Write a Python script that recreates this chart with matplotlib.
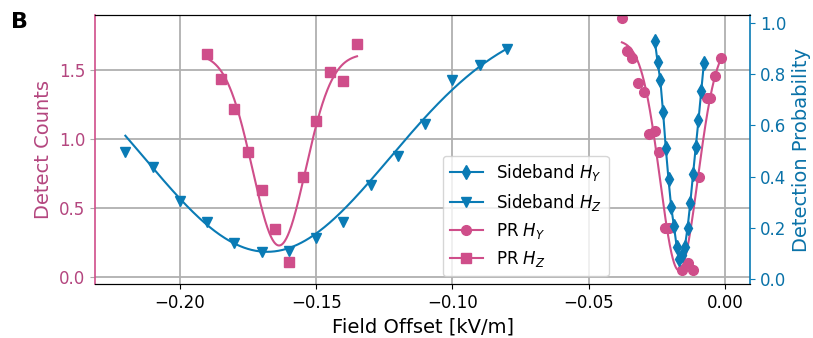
import numpy as np
import matplotlib
matplotlib.use("Agg")
import matplotlib.pyplot as plt
from matplotlib.lines import Line2D

# ---------------- data ----------------
# PR H_Z (squares, left axis: Detect Counts)
pr_hz_x = [-0.190, -0.185, -0.180, -0.175, -0.170, -0.165, -0.160, -0.155, -0.150, -0.145, -0.140, -0.135]
pr_hz_y = [1.62, 1.44, 1.22, 0.91, 0.63, 0.35, 0.11, 0.73, 1.13, 1.49, 1.42, 1.69]

# PR H_Y (circles, left axis)
pr_hy_x = [-0.0378, -0.0358, -0.0340, -0.0318, -0.0298, -0.0278, -0.0257, -0.0241, -0.0219,
           -0.0204, -0.0159, -0.0135, -0.0116, -0.0094, -0.0067, -0.0055, -0.0037, -0.0016]
pr_hy_y = [1.88, 1.64, 1.59, 1.41, 1.34, 1.04, 1.06, 0.91, 0.36,
           0.355, 0.05, 0.10, 0.05, 0.725, 1.30, 1.297, 1.46, 1.59]

# Sideband H_Z (down triangles, right axis: Detection Probability)
sb_hz_x = [-0.22, -0.21, -0.20, -0.19, -0.18, -0.17, -0.16, -0.15, -0.14, -0.13,
           -0.12, -0.11, -0.10, -0.09, -0.08]
sb_hz_y = [0.497, 0.438, 0.306, 0.223, 0.142, 0.106, 0.110, 0.161, 0.224, 0.367,
           0.482, 0.607, 0.775, 0.834, 0.899]

# Sideband H_Y (thin diamonds, right axis)
sb_hy_x = [-0.0257, -0.0247, -0.0237, -0.0227, -0.0217, -0.0207, -0.0197, -0.0187, -0.0177,
           -0.0167, -0.0157, -0.0147, -0.0137, -0.0127, -0.0117, -0.0107, -0.0097, -0.0087, -0.0077]
sb_hy_y = [0.927, 0.847, 0.775, 0.652, 0.512, 0.389, 0.280, 0.207, 0.127,
           0.080, 0.095, 0.127, 0.201, 0.298, 0.409, 0.516, 0.620, 0.733, 0.844]

# Gaussian-dip fit parameters (offset, depth, center, sigma)
fit_pr_hz = (1.62, 1.39, -0.1636, 0.0097)
fit_pr_hy = (1.72, 1.67, -0.0169, 0.0069)
fit_sb_hz = (1.036, 0.929, -0.168, 0.045)

legend_labels = ["Sideband $H_Y$", "Sideband $H_Z$", "PR $H_Y$", "PR $H_Z$"]


def dip(x, p):
    o, d, c, s = p
    return o - d * np.exp(-(x - c) ** 2 / (2 * s ** 2))


PINK = "#CF4E8A"
PINK_TXT = "#B4467F"
BLUE = "#0A7BB5"
BLUE_TXT = "#0A72A8"

fig = plt.figure(figsize=(8.13, 3.38), dpi=100)
ax = fig.add_axes([0.117, 0.159, 0.8055, 0.7965])
ax2 = ax.twinx()

lw = 1.5
# PR series on left axis
xf = np.linspace(min(pr_hz_x), max(pr_hz_x), 300)
ax.plot(xf, dip(xf, fit_pr_hz), color=PINK, lw=lw)
ax.plot(pr_hz_x, pr_hz_y, ls="none", marker="s", ms=6.5, color=PINK)

xf = np.linspace(min(pr_hy_x), max(pr_hy_x), 300)
ax.plot(xf, dip(xf, fit_pr_hy), color=PINK, lw=lw)
ax.plot(pr_hy_x, pr_hy_y, ls="none", marker="o", ms=7, color=PINK)

# Sideband series on right axis
xf = np.linspace(min(sb_hz_x), max(sb_hz_x), 300)
ax2.plot(xf, dip(xf, fit_sb_hz), color=BLUE, lw=lw)
ax2.plot(sb_hz_x, sb_hz_y, ls="none", marker="v", ms=7.5, color=BLUE)

ax2.plot(sb_hy_x, sb_hy_y, ls="-", lw=lw, marker="d", ms=7.5, color=BLUE)

ax.set_xlim(-0.2311, 0.0092)
ax.set_ylim(-0.051, 1.901)
ax2.set_ylim(-0.0195, 1.030)

ax.set_xticks([-0.20, -0.15, -0.10, -0.05, 0.00])
ax.set_yticks([0.0, 0.5, 1.0, 1.5])
ax2.set_yticks([0.0, 0.2, 0.4, 0.6, 0.8, 1.0])

ax.grid(True, color="#b0b0b0", lw=1.3)
ax.set_axisbelow(True)

ax.tick_params(axis="x", labelsize=12, colors="black")
ax.tick_params(axis="y", labelsize=12, colors="#aaaaaa", labelcolor=PINK_TXT)
ax2.tick_params(axis="y", labelsize=12, colors=BLUE, labelcolor=BLUE_TXT)

ax.set_xlabel("Field Offset [kV/m]", fontsize=14)
ax.set_ylabel("Detect Counts", fontsize=14, color=PINK_TXT)
ax2.set_ylabel("Detection Probability", fontsize=14, color=BLUE_TXT)

ax.spines["left"].set_color(PINK)
ax.spines["right"].set_visible(False)
ax2.spines["left"].set_visible(False)
ax2.spines["right"].set_color(BLUE)
for a in (ax, ax2):
    a.spines["left"].set_linewidth(1.2)
    a.spines["right"].set_linewidth(1.2)

handles = [
    Line2D([], [], color=BLUE, lw=lw, marker="d", ms=7.5),
    Line2D([], [], color=BLUE, lw=lw, marker="v", ms=7.5),
    Line2D([], [], color=PINK, lw=lw, marker="o", ms=7),
    Line2D([], [], color=PINK, lw=lw, marker="s", ms=6.5),
]
ax2.legend(handles, legend_labels, loc="lower left", bbox_to_anchor=(0.531, 0.031),
           borderaxespad=0, fontsize=12, framealpha=0.8)

fig.text(0.014, 0.965, "B", fontsize=16, fontweight="bold", va="top", ha="left")

fig.savefig("out.png", dpi=100)
